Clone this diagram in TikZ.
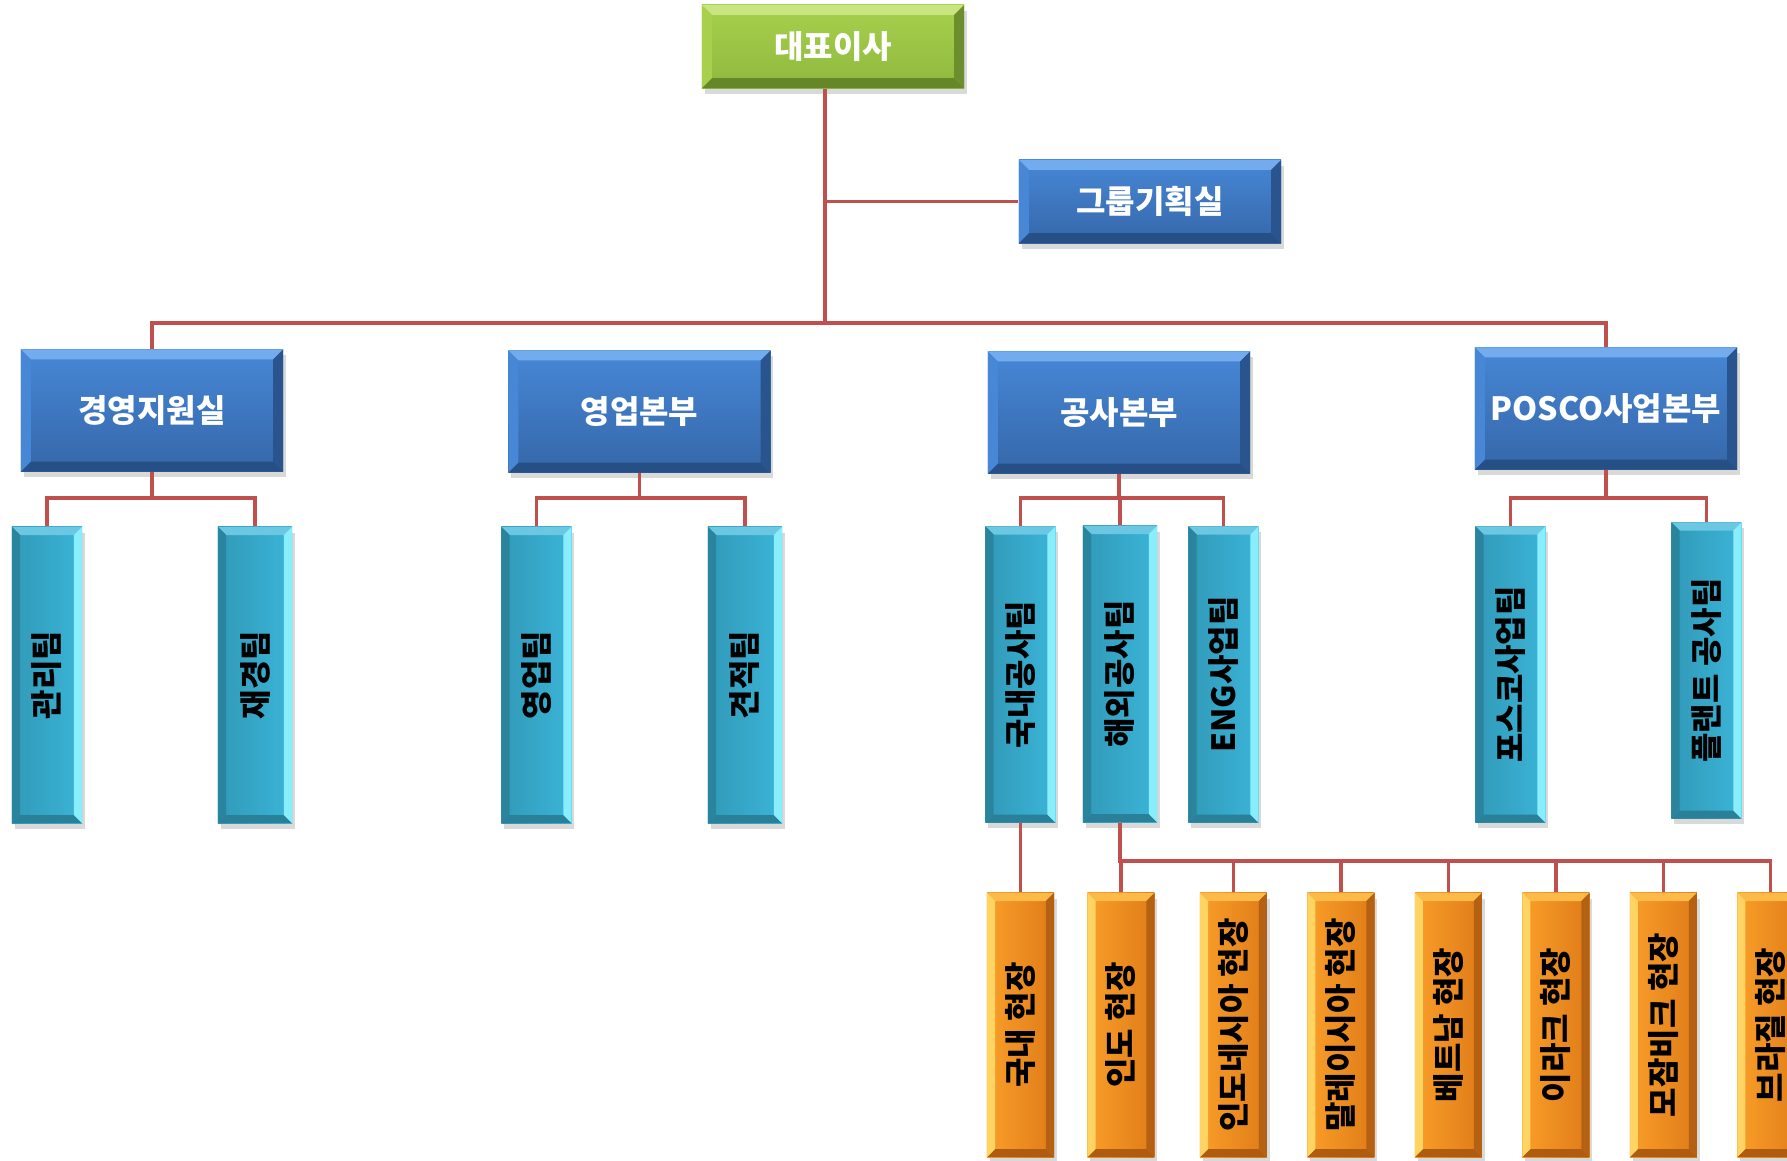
\documentclass[tikz,border=0pt]{standalone}
\usepackage{fontspec}
\usepackage{graphicx}
\usepackage{tikz}
\usetikzlibrary{positioning,shadows}
\newfontfamily\krfont{Noto Sans CJK KR}

\definecolor{linkred}{HTML}{C0504D}
\definecolor{greenhi}{HTML}{C8E581}
\definecolor{greentop}{HTML}{A8D04E}
\definecolor{greenbot}{HTML}{8EB93D}
\definecolor{greendk}{HTML}{66862A}
\definecolor{bluehi}{HTML}{72ACEE}
\definecolor{bluetop}{HTML}{4787D6}
\definecolor{bluebot}{HTML}{3567A9}
\definecolor{bluedk}{HTML}{264F86}
\definecolor{cyanhi}{HTML}{88EEFC}
\definecolor{cyanface}{HTML}{3BB5D8}
\definecolor{cyanleft}{HTML}{3199B8}
\definecolor{cyandk}{HTML}{2A8098}
\definecolor{orghi}{HTML}{FFD463}
\definecolor{orgface}{HTML}{F8951F}
\definecolor{orgright}{HTML}{DF7B18}
\definecolor{orgdk}{HTML}{AE5C12}

\tikzset{
  link/.style={draw=linkred, line width=0.95pt},
  bevel/.style n args={5}{path picture={
      \coordinate (nw) at (path picture bounding box.north west);
      \coordinate (ne) at (path picture bounding box.north east);
      \coordinate (sw) at (path picture bounding box.south west);
      \coordinate (se) at (path picture bounding box.south east);
      \fill[#1] (nw) -- (ne) -- ([shift={(-#5,-#5)}]ne) -- ([shift={(#5,-#5)}]nw) -- cycle;
      \fill[#2] (sw) -- (se) -- ([shift={(-#5,#5)}]se) -- ([shift={(#5,#5)}]sw) -- cycle;
      \fill[#3] (nw) -- ([shift={(#5,-#5)}]nw) -- ([shift={(#5,#5)}]sw) -- (sw) -- cycle;
      \fill[#4] (ne) -- ([shift={(-#5,-#5)}]ne) -- ([shift={(-#5,#5)}]se) -- (se) -- cycle;
  }},
  chartbox/.style={inner sep=0pt, font=\krfont\bfseries\fontsize{9.1}{11}\selectfont,
    drop shadow={opacity=0.3, shadow xshift=0.8pt, shadow yshift=-1.6pt}},
  ceobox/.style={chartbox, text=white, minimum width=2.62cm, minimum height=0.83cm,
    top color=greentop, bottom color=greenbot,
    bevel={greenhi}{greendk}{greentop}{greendk!85!greenbot}{2.8pt}},
  deptbox/.style={chartbox, text=white, minimum width=2.62cm, minimum height=1.22cm,
    top color=bluetop, bottom color=bluebot,
    bevel={bluehi}{bluedk}{bluetop}{bluedk!80!bluebot}{2.8pt}},
  teambox/.style={chartbox, minimum width=0.7cm, minimum height=2.96cm,
    left color=cyanleft, right color=cyanface,
    bevel={cyanface!75!white}{cyandk}{cyandk!85!cyanleft}{cyanhi}{2.3pt}},
  sitebox/.style={chartbox, minimum width=0.67cm, minimum height=2.64cm,
    left color=orgface!85!orghi, right color=orgright,
    bevel={orghi!60!orgface}{orgdk}{orghi}{orgdk!85!orgright}{2.3pt}},
}

\begin{document}
\begin{tikzpicture}[x=0.01cm, y=-0.01cm]
  \useasboundingbox (0,0) rectangle (1787,1160);
  % top
  \node[ceobox] (ceo) at (833,46.5) {대표이사};
  \node[deptbox, minimum height=0.83cm] (plan) at (1150,201.5) {그룹기획실};
  \node[deptbox] (d1) at (152,410.5) {경영지원실};
  \node[deptbox] (d2) at (639.5,411.5) {영업본부};
  \node[deptbox] (d3) at (1119,412.5) {공사본부};
  \node[deptbox] (d4) at (1606,408.5) {POSCO사업본부};
  % teams
  \node[teambox] (t1) at (47,675) {\rotatebox{90}{관리팀}};
  \node[teambox, minimum width=0.74cm] (t2) at (255,675) {\rotatebox{90}{재경팀}};
  \node[teambox] (t3) at (536.5,675) {\rotatebox{90}{영업팀}};
  \node[teambox, minimum width=0.74cm] (t4) at (745,675) {\rotatebox{90}{견적팀}};
  \node[teambox] (t5) at (1020.5,674.5) {\rotatebox{90}{국내공사팀}};
  \node[teambox, minimum width=0.74cm] (t6) at (1120,674) {\rotatebox{90}{해외공사팀}};
  \node[teambox] (t7) at (1223.5,674.5) {\rotatebox{90}{ENG사업팀}};
  \node[teambox] (t8) at (1510.5,674.5) {\rotatebox{90}{포스코사업팀}};
  \node[teambox] (t9) at (1706.5,670.5) {\rotatebox{90}{플랜트 공사팀}};
  % sites
  \node[sitebox] (o1) at (1020.5,1025) {\rotatebox{90}{국내 현장}};
  \node[sitebox, right=0.32cm of o1] (o2) {\rotatebox{90}{인도 현장}};
  \node[sitebox, right=0.44cm of o2] (o3) {\rotatebox{90}{인도네시아 현장}};
  \node[sitebox, right=0.39cm of o3] (o4) {\rotatebox{90}{말레이시아 현장}};
  \node[sitebox, right=0.39cm of o4] (o5) {\rotatebox{90}{베트남 현장}};
  \node[sitebox, right=0.39cm of o5] (o6) {\rotatebox{90}{이라크 현장}};
  \node[sitebox, right=0.39cm of o6] (o7) {\rotatebox{90}{모잠비크 현장}};
  \node[sitebox, right=0.39cm of o7] (o8) {\rotatebox{90}{브라질 현장}};

  \coordinate (bus0) at (825,323);
  \coordinate (bus1) at (0,498);
  \coordinate (bus2) at (0,861);
  \draw[link] (ceo.south -| bus0) -- (bus0);
  \draw[link] (bus0 |- plan) -- (plan);
  \draw[link] (d1) |- (bus0) -| (d4);
  \draw[link] (d1) -- (d1 |- bus1) -| (t1);
  \draw[link] (d1 |- bus1) -| (t2);
  \draw[link] (d2) -- (d2 |- bus1) -| (t3);
  \draw[link] (d2 |- bus1) -| (t4);
  \draw[link] (d3) -- (d3 |- bus1) -| (t5);
  \draw[link] (d3 |- bus1) -| (t6);
  \draw[link] (d3 |- bus1) -| (t7);
  \draw[link] (d4) -- (d4 |- bus1) -| (t8);
  \draw[link] (d4 |- bus1) -| (t9);
  \draw[link] (t5) -- (o1);
  \draw[link] (t6) -- (t6 |- bus2) -| (o8);
  \foreach \s in {o2,o3,o4,o5,o6,o7}
    \draw[link] (t6 |- bus2) -| (\s);
%  \draw[link] (t6 |- bus2) -| (o2);
\end{tikzpicture}
\end{document}
